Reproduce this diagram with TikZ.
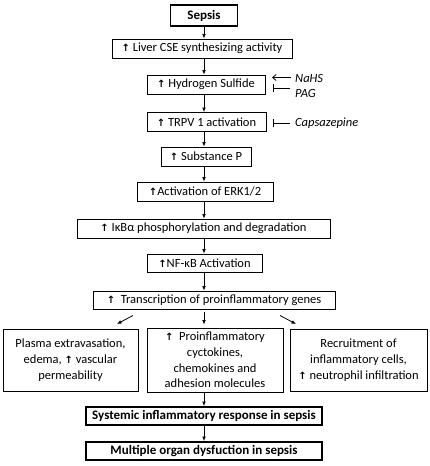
\documentclass[tikz,border=0pt]{standalone}
\usepackage{fontspec}
\setmainfont{Carlito}
\newfontfamily\symfont{DejaVu Sans}
\newcommand\upar{{\symfont\bfseries\fontsize{10}{10}\selectfont ↑}}
\usetikzlibrary{arrows.meta,calc}
\begin{document}
\begin{tikzpicture}[x=1pt,y=-1pt,
 box/.style={draw,line width=0.8pt,inner sep=0pt,align=center,font=\fontsize{12.5}{15.8}\selectfont},
 bbox/.style={draw,line width=1.8pt,inner sep=0pt,align=center,font=\fontsize{13}{14}\selectfont\bfseries},
 arr/.style={line width=0.8pt,-{Latex[length=4.5pt,width=3.8pt]}},
 open/.style={line width=0.8pt,-{Straight Barb[length=3.5pt,width=6pt]}},
 inhib/.style={line width=0.8pt,-{Bar[width=8pt,line width=0.8pt]}},
 lab/.style={anchor=west,inner sep=0pt,font=\fontsize{12.5}{14}\selectfont\itshape}]
\useasboundingbox (0,0) rectangle (430,466);

\node[bbox,minimum width=67pt,minimum height=21pt] (sepsis) at (204,15.5) {Sepsis};
\node[box,minimum width=180pt,minimum height=19pt] (liver) at (202,48.5) {\upar{} Liver CSE synthesizing activity};
\node[box,minimum width=118pt,minimum height=19pt] (h2s) at (206,84.5) {\upar{} Hydrogen Sulfide};
\node[box,minimum width=119pt,minimum height=19pt] (trpv) at (206.5,122) {\upar{} TRPV 1 activation};
\node[box,minimum width=90pt,minimum height=19pt] (subp) at (206,156.5) {\upar{} Substance P};
\node[box,minimum width=136pt,minimum height=19pt] (erk) at (205,191.5) {\upar{}Activation of ERK1/2};
\node[box,minimum width=253pt,minimum height=19pt] (ikb) at (203.5,228.5) {\upar{} IκBα phosphorylation and degradation};
\node[box,minimum width=115pt,minimum height=18pt] (nfkb) at (204.5,263) {\upar{}NF-κB Activation};
\node[box,minimum width=242pt,minimum height=18pt] (trans) at (214,300) {\upar{}\ \ Transcription of proinflammatory genes};

\node[box,minimum width=135pt,minimum height=62pt] (plasma) at (70.5,360) {Plasma extravasation,\\ edema, \upar{} vascular\\ permeability};
\node[box,minimum width=136pt,minimum height=64pt] (cyto) at (215,360) {\upar{}\ \ Proinflammatory\\ cyctokines,\\ chemokines and\\ adhesion molecules};
\node[box,minimum width=137pt,minimum height=62pt] (recr) at (358.5,360) {Recruitment of\\ inflammatory cells,\\ \upar{} neutrophil infiltration};

\node[bbox,minimum width=236pt,minimum height=18pt] (sys) at (204,416) {Systemic inflammatory response in sepsis};
\node[bbox,minimum width=236pt,minimum height=18pt] (mod) at (204,451) {Multiple organ dysfuction in sepsis};

\node[lab] (nahs) at (295,78.5) {NaHS};
\node[lab] (pag) at (295,93) {PAG};
\node[lab] (capsa) at (295,123.5) {Capsazepine};

\coordinate (c) at (204,0);
\draw[arr] (sepsis.south -| c) -- (liver.north -| c);
\draw[arr] (liver.south -| c) -- (h2s.north -| c);
\draw[arr] (h2s.south -| c) -- (trpv.north -| c);
\draw[arr] (trpv.south -| c) -- (subp.north -| c);
\draw[arr] (subp.south -| c) -- (erk.north -| c);
\draw[arr] (erk.south -| c) -- (ikb.north -| c);
\draw[arr] (ikb.south -| c) -- (nfkb.north -| c);
\draw[arr] (nfkb.south -| c) -- (trans.north -| c);
\draw[arr] ($(trans.south -| c)+(0,3)$) -- ($(cyto.north -| c)+(0,-3)$);
\coordinate (l1) at (133,315.5);
\coordinate (l2) at (117,324);
\coordinate (r1) at (280,315.5);
\coordinate (r2) at (296,324);
\draw[arr] (l1) -- (l2);
\draw[arr] (r1) -- (r2);
\draw[arr] (cyto.south -| c) -- (sys.north -| c);
\draw[arr] (sys.south -| c) -- (mod.north -| c);

\coordinate (n1) at (291,77.5);
\coordinate (n2) at (272,77.5);
\draw[open] (n1) -- (n2);
\coordinate (p1) at (290,88);
\coordinate (p2) at (273,88);
\draw[inhib] (p1) -- (p2);
\coordinate (q1) at (290,123);
\coordinate (q2) at (273,123);
\draw[inhib] (q1) -- (q2);
\end{tikzpicture}
\end{document}
